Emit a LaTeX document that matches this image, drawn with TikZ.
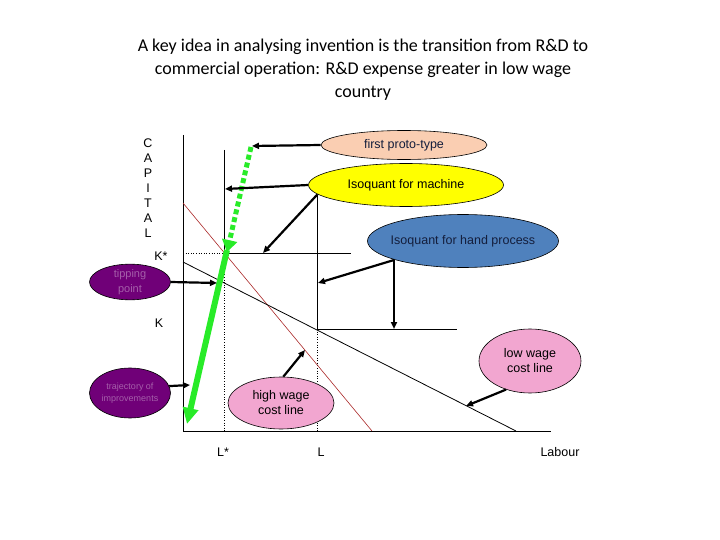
\documentclass[tikz,border=0pt]{standalone}
\usepackage{fontspec}
\setmainfont{Liberation Sans}
\newfontfamily\titlefont{Carlito}
\usepackage{tikz}
\usetikzlibrary{shapes.geometric, arrows.meta, positioning, calc}
\definecolor{myred}{RGB}{170,40,40}
\definecolor{mygreen}{RGB}{40,235,40}
\definecolor{hdrpeach}{RGB}{250,206,178}
\definecolor{hdryellow}{RGB}{255,255,0}
\definecolor{hdrblue}{RGB}{79,129,189}
\definecolor{hdrpurple}{RGB}{112,0,120}
\definecolor{hdrpink}{RGB}{242,166,208}
\definecolor{txtpurple}{RGB}{165,95,170}
\definecolor{txtnavy}{RGB}{20,30,60}
\tikzset{
  oval/.style={ellipse, draw=black, inner sep=0pt, align=center,
    font=\fontsize{12.5}{15}\selectfont, line width=0.6pt},
  axis/.style={line width=1pt, color=black},
  iso/.style={line width=1pt, color=black},
  guide/.style={line width=0.6pt, dotted, color=black},
  arrow/.style={-{Triangle[length=7pt,width=6pt]}, line width=2.2pt, color=black},
  label/.style={font=\fontsize{12.5}{14}\selectfont, inner sep=0pt}
}
\begin{document}
\begin{tikzpicture}[x=1pt, y=-1pt,
  greensolid/.style={-{Triangle[length=16pt,width=15pt]}, line width=6pt, color=mygreen},
  greendots/.style={-{Triangle[length=12pt,width=15pt]}, line width=5pt, color=mygreen, dash pattern=on 5pt off 3pt}]
  \useasboundingbox (0,0) rectangle (720,540);

  % title
  \node[font=\titlefont\fontsize{18}{23}\selectfont, align=center] (title) at (363,70)
    {A key idea in analysing invention is the transition from R\&D to\\
     commercial operation: R\&D expense greater in low wage\\
     country};

  % axes
  \coordinate (O) at (183,431);
  \coordinate (ytop) at (183,135);
  \coordinate (xend) at (551,431);
  \draw[axis] (ytop) -- (O) -- (xend);
  \foreach \ch [count=\i from 0] in {C,A,P,I,T,A,L}
    \node[label] (cap\i) at (148,143+15*\i) {\ch};
  \node[label] (kstar) at (161,256) {K*};
  \node[label] (klab) at (159,323) {K};
  \node[label] (lstar) at (223,452) {L*};
  \node[label] (llab) at (321,452) {L};
  \node[label] (labour) at (560,452) {Labour};

  % isoquants
  \coordinate (m1) at (224,150);
  \coordinate (mK) at (224,253);
  \coordinate (m2) at (351,253);
  \coordinate (h1) at (317,195);
  \coordinate (hK) at (317,329);
  \coordinate (h2) at (457,329);
  \draw[iso] (m1) -- (mK) -- (m2);
  \draw[iso] (h1) -- (hK) -- (h2);
  \draw[guide] (O |- mK) -- (mK) -- (mK |- O);
  \draw[guide] (hK) -- (hK |- O);

  % cost lines
  \coordinate (hw1) at (183,203);
  \coordinate (hw2) at (372,431);
  \coordinate (lw1) at (183,262);
  \coordinate (lw2) at (516,431);
  \draw[myred, line width=0.6pt] (hw1) -- (hw2);
  \draw[black, line width=0.8pt] (lw1) -- (lw2);

  % trajectory
  \coordinate (g1) at (251,147);
  \coordinate (g2) at (227,252);
  \coordinate (g3) at (187,424);
  \draw[greendots] (g1) -- (g2);
  \draw[greensolid] ($(g2)+(0,-2)$) -- (g3);

  % ovals
  \node[oval, fill=hdrpeach, text=txtnavy, minimum width=166pt, minimum height=29pt] (proto) at (404,145) {first proto-type};
  \node[oval, fill=hdryellow, minimum width=195pt, minimum height=43pt] (machine) at (406,185) {Isoquant for machine};
  \node[oval, fill=hdrblue, text=txtnavy, inner xsep=-8pt, minimum width=191pt, minimum height=53pt] (hand) at (463,241) {Isoquant for hand process};
  \node[oval, fill=hdrpurple, text=txtpurple, font=\fontsize{11}{15}\selectfont, minimum width=81pt, minimum height=35pt] (tipping) at (130,282) {tipping\\point};
  \node[oval, fill=hdrpurple, text=txtpurple, font=\fontsize{9}{12}\selectfont, minimum width=81pt, minimum height=50pt] (traj) at (130,393) {trajectory of\\improvements};
  \node[oval, fill=hdrpink, minimum width=106pt, minimum height=52pt] (high) at (281,403) {high wage\\cost line};
  \node[oval, fill=hdrpink, minimum width=102pt, minimum height=64pt] (low) at (530,361) {low wage\\cost line};

  % pointers
  \coordinate (protoend) at (252,146);
  \coordinate (machend1) at (225,189);
  \coordinate (machend2) at (263,253);
  \coordinate (handend1) at (318,283);
  \coordinate (handbend) at (394,260);
  \coordinate (handend2) at (394,329);
  \coordinate (tipend) at (217,283);
  \coordinate (trajend) at (190,385);
  \coordinate (highend) at (305,350);
  \coordinate (lowend) at (466,406);
  \draw[arrow] (proto.west) -- (protoend);
  \draw[arrow] (machine.west) -- (machend1);
  \draw[arrow] (machine.-174) -- (machend2);
  \draw[arrow] (handbend) -- (handend1);
  \draw[arrow] (handbend) -- (handend2);
  \draw[arrow] (tipping.east) -- (tipend);
  \draw[arrow] (traj.10) -- (trajend);
  \draw[arrow] (high.85) -- (highend);
  \draw[arrow] (low.-130) -- (lowend);

\end{tikzpicture}
\end{document}
